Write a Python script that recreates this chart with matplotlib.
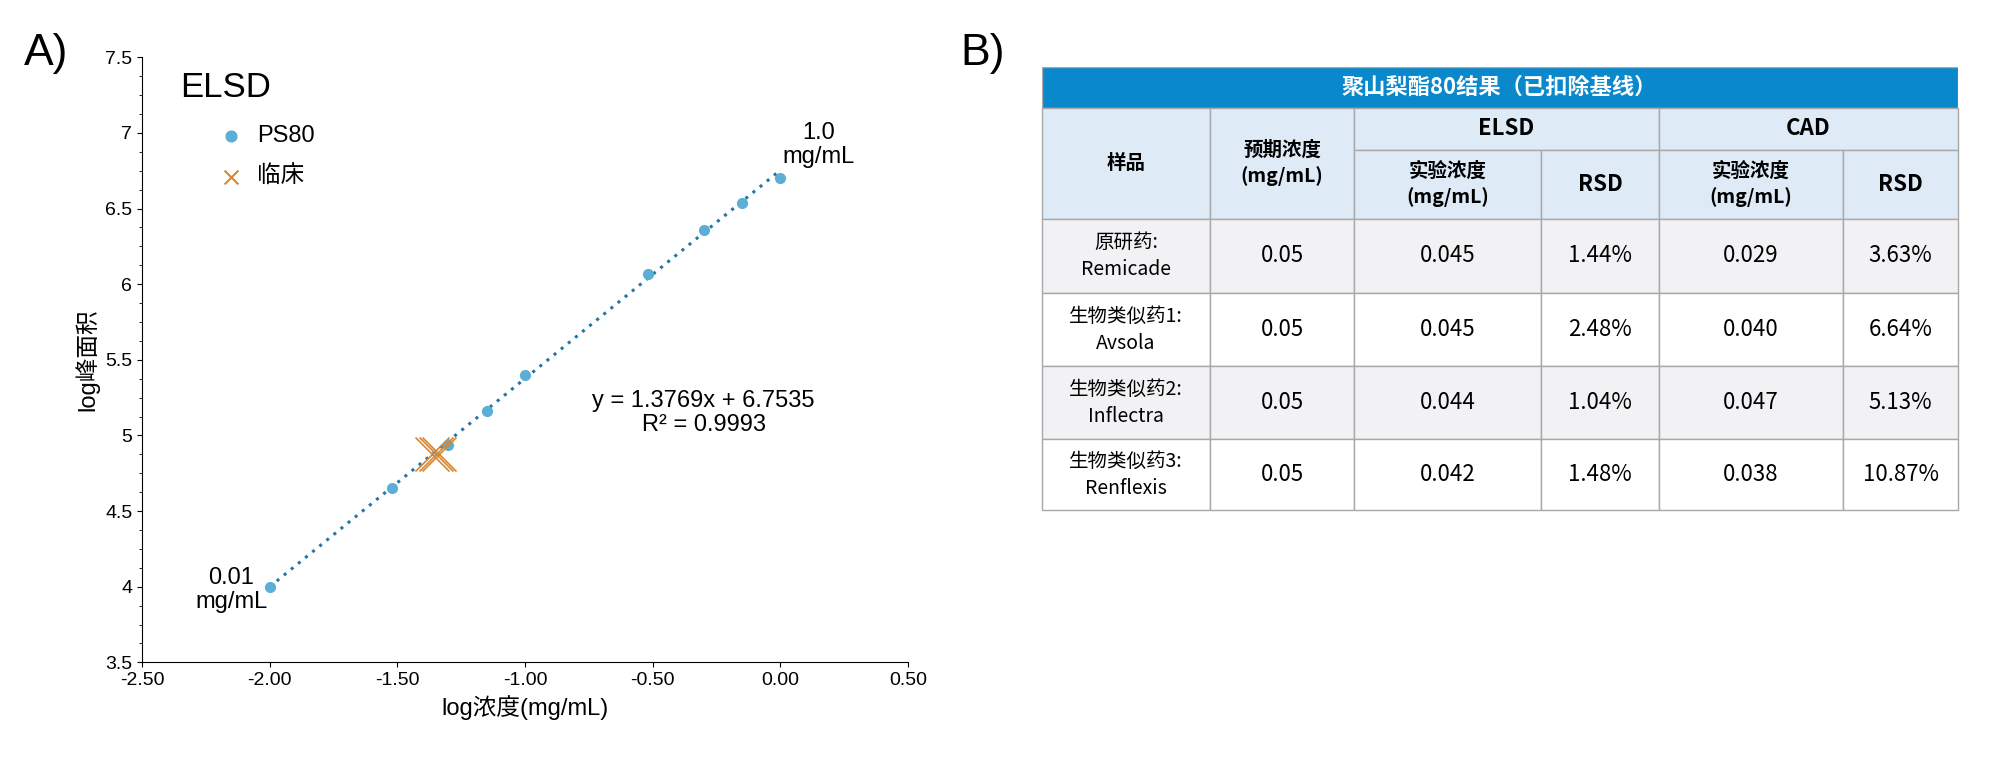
import matplotlib
matplotlib.use("Agg")
import matplotlib.pyplot as plt
from matplotlib.patches import Rectangle
import numpy as np

CJK = 'Noto Sans CJK JP'
plt.rcParams['font.family'] = ['Liberation Sans', CJK]

log_conc = [-2.0, -1.52, -1.30, -1.15, -1.0, -0.52, -0.30, -0.15, 0.0]
log_area = [4.0, 4.65, 4.94, 5.16, 5.40, 6.07, 6.36, 6.54, 6.70]
clin_x = [-1.365, -1.35, -1.335]
clin_y = [4.88, 4.88, 4.88]
slope, intercept = 1.3769, 6.7535

col_heads = ["样品", "预期浓度\n(mg/mL)", "实验浓度\n(mg/mL)", "RSD", "实验浓度\n(mg/mL)", "RSD"]
samples = ["原研药:\nRemicade", "生物类似药1:\nAvsola", "生物类似药2:\nInflectra", "生物类似药3:\nRenflexis"]
expected = ["0.05", "0.05", "0.05", "0.05"]
elsd_conc = ["0.045", "0.045", "0.044", "0.042"]
elsd_rsd = ["1.44%", "2.48%", "1.04%", "1.48%"]
cad_conc = ["0.029", "0.040", "0.047", "0.038"]
cad_rsd = ["3.63%", "6.64%", "5.13%", "10.87%"]

fig = plt.figure(figsize=(20, 7.64), dpi=100)
ax = fig.add_axes([0.071, 0.133, 0.383, 0.792])
xf = np.array([-2.0, 0.0])
ax.plot(xf, slope * xf + intercept, ls=(0, (1, 2)), color='#1f77a4', lw=2.2, zorder=1)
ax.errorbar(log_conc, log_area, yerr=0.015, fmt='o', color='#5aaed8', ms=7, ecolor='#2a6f9a', capsize=3, zorder=3)
ax.scatter(clin_x, clin_y, marker='x', s=600, color='#d9862e', lw=1.2, zorder=4)
ax.set_xlim(-2.5, 0.5)
ax.set_ylim(3.5, 7.5)
ax.set_xticks(np.arange(-2.5, 0.51, 0.5))
ax.set_xticklabels([f"{v:.2f}" for v in np.arange(-2.5, 0.51, 0.5)], fontsize=14)
ax.set_yticks(np.arange(3.5, 7.51, 0.5))
ax.set_yticklabels(["3.5", "4", "4.5", "5", "5.5", "6", "6.5", "7", "7.5"], fontsize=14)
ax.set_yticks(np.arange(3.5, 7.5, 0.125), minor=True)
for s in ['top', 'right']:
    ax.spines[s].set_visible(False)
ax.set_xlabel("log浓度(mg/mL)", fontsize=17)
ax.set_ylabel("log峰面积", fontsize=17)
ax.text(-2.35, 7.3, "ELSD", fontsize=25, va='center')
ax.scatter([-2.15], [6.98], s=60, color='#5aaed8')
ax.text(-2.05, 6.98, "PS80", fontsize=17, va='center')
ax.scatter([-2.15], [6.71], marker='x', s=100, color='#d9862e', lw=1.5)
ax.text(-2.05, 6.71, "临床", fontsize=17, va='center')
ax.text(0.15, 6.92, "1.0\nmg/mL", fontsize=17, ha='center', va='center', linespacing=1.1)
ax.text(-2.15, 3.98, "0.01\nmg/mL", fontsize=17, ha='center', va='center', linespacing=1.1)
ax.text(-0.3, 5.15, "y = 1.3769x + 6.7535\nR² = 0.9993", fontsize=17, ha='center', va='center', linespacing=1.1)
fig.text(0.012, 0.93, "A)", fontsize=32, va='center')
fig.text(0.48, 0.93, "B)", fontsize=32, va='center')

# table
t = fig.add_axes([0.521, 0.332, 0.458, 0.580])
t.set_xlim(818, 1537); t.set_ylim(401, 53); t.axis('off')
cols = [818, 950, 1063, 1210, 1302, 1447, 1537]
rows = [172, 230, 288, 345, 401]
ec = '#a8a8a8'
t.add_patch(Rectangle((818, 53), 719, 32, fc='#0a88cc', ec=ec, lw=1))
t.text(1177, 69, "聚山梨酯80结果（已扣除基线）", color='white', fontsize=16, fontweight='bold', ha='center', va='center', family=CJK)
hdr = '#deebf7'
def cell(x0, x1, y0, y1, txt, fc, fs=14, bold=False):
    t.add_patch(Rectangle((x0, y0), x1 - x0, y1 - y0, fc=fc, ec=ec, lw=1, clip_on=False))
    t.text((x0 + x1) / 2, (y0 + y1) / 2, txt, ha='center', va='center', fontsize=fs, family=CJK,
           fontweight='bold' if bold else 'normal', linespacing=1.4)
cell(818, 950, 85, 172, col_heads[0], hdr, 14, True)
cell(950, 1063, 85, 172, col_heads[1], hdr, 14, True)
cell(1063, 1302, 85, 118, "ELSD", hdr, 16, True)
cell(1302, 1537, 85, 118, "CAD", hdr, 16, True)
for i in range(2, 6):
    cell(cols[i], cols[i + 1], 118, 172, col_heads[i], hdr, 14 if i % 2 == 0 else 16, True)
for r in range(4):
    fc = '#f2f2f4' if r % 2 == 0 else 'white'
    vals = [samples[r], expected[r], elsd_conc[r], elsd_rsd[r], cad_conc[r], cad_rsd[r]]
    for c in range(6):
        cell(cols[c], cols[c + 1], rows[r], rows[r + 1], vals[c], fc, 14 if c == 0 else 16)

fig.savefig("out.png", dpi=100)
